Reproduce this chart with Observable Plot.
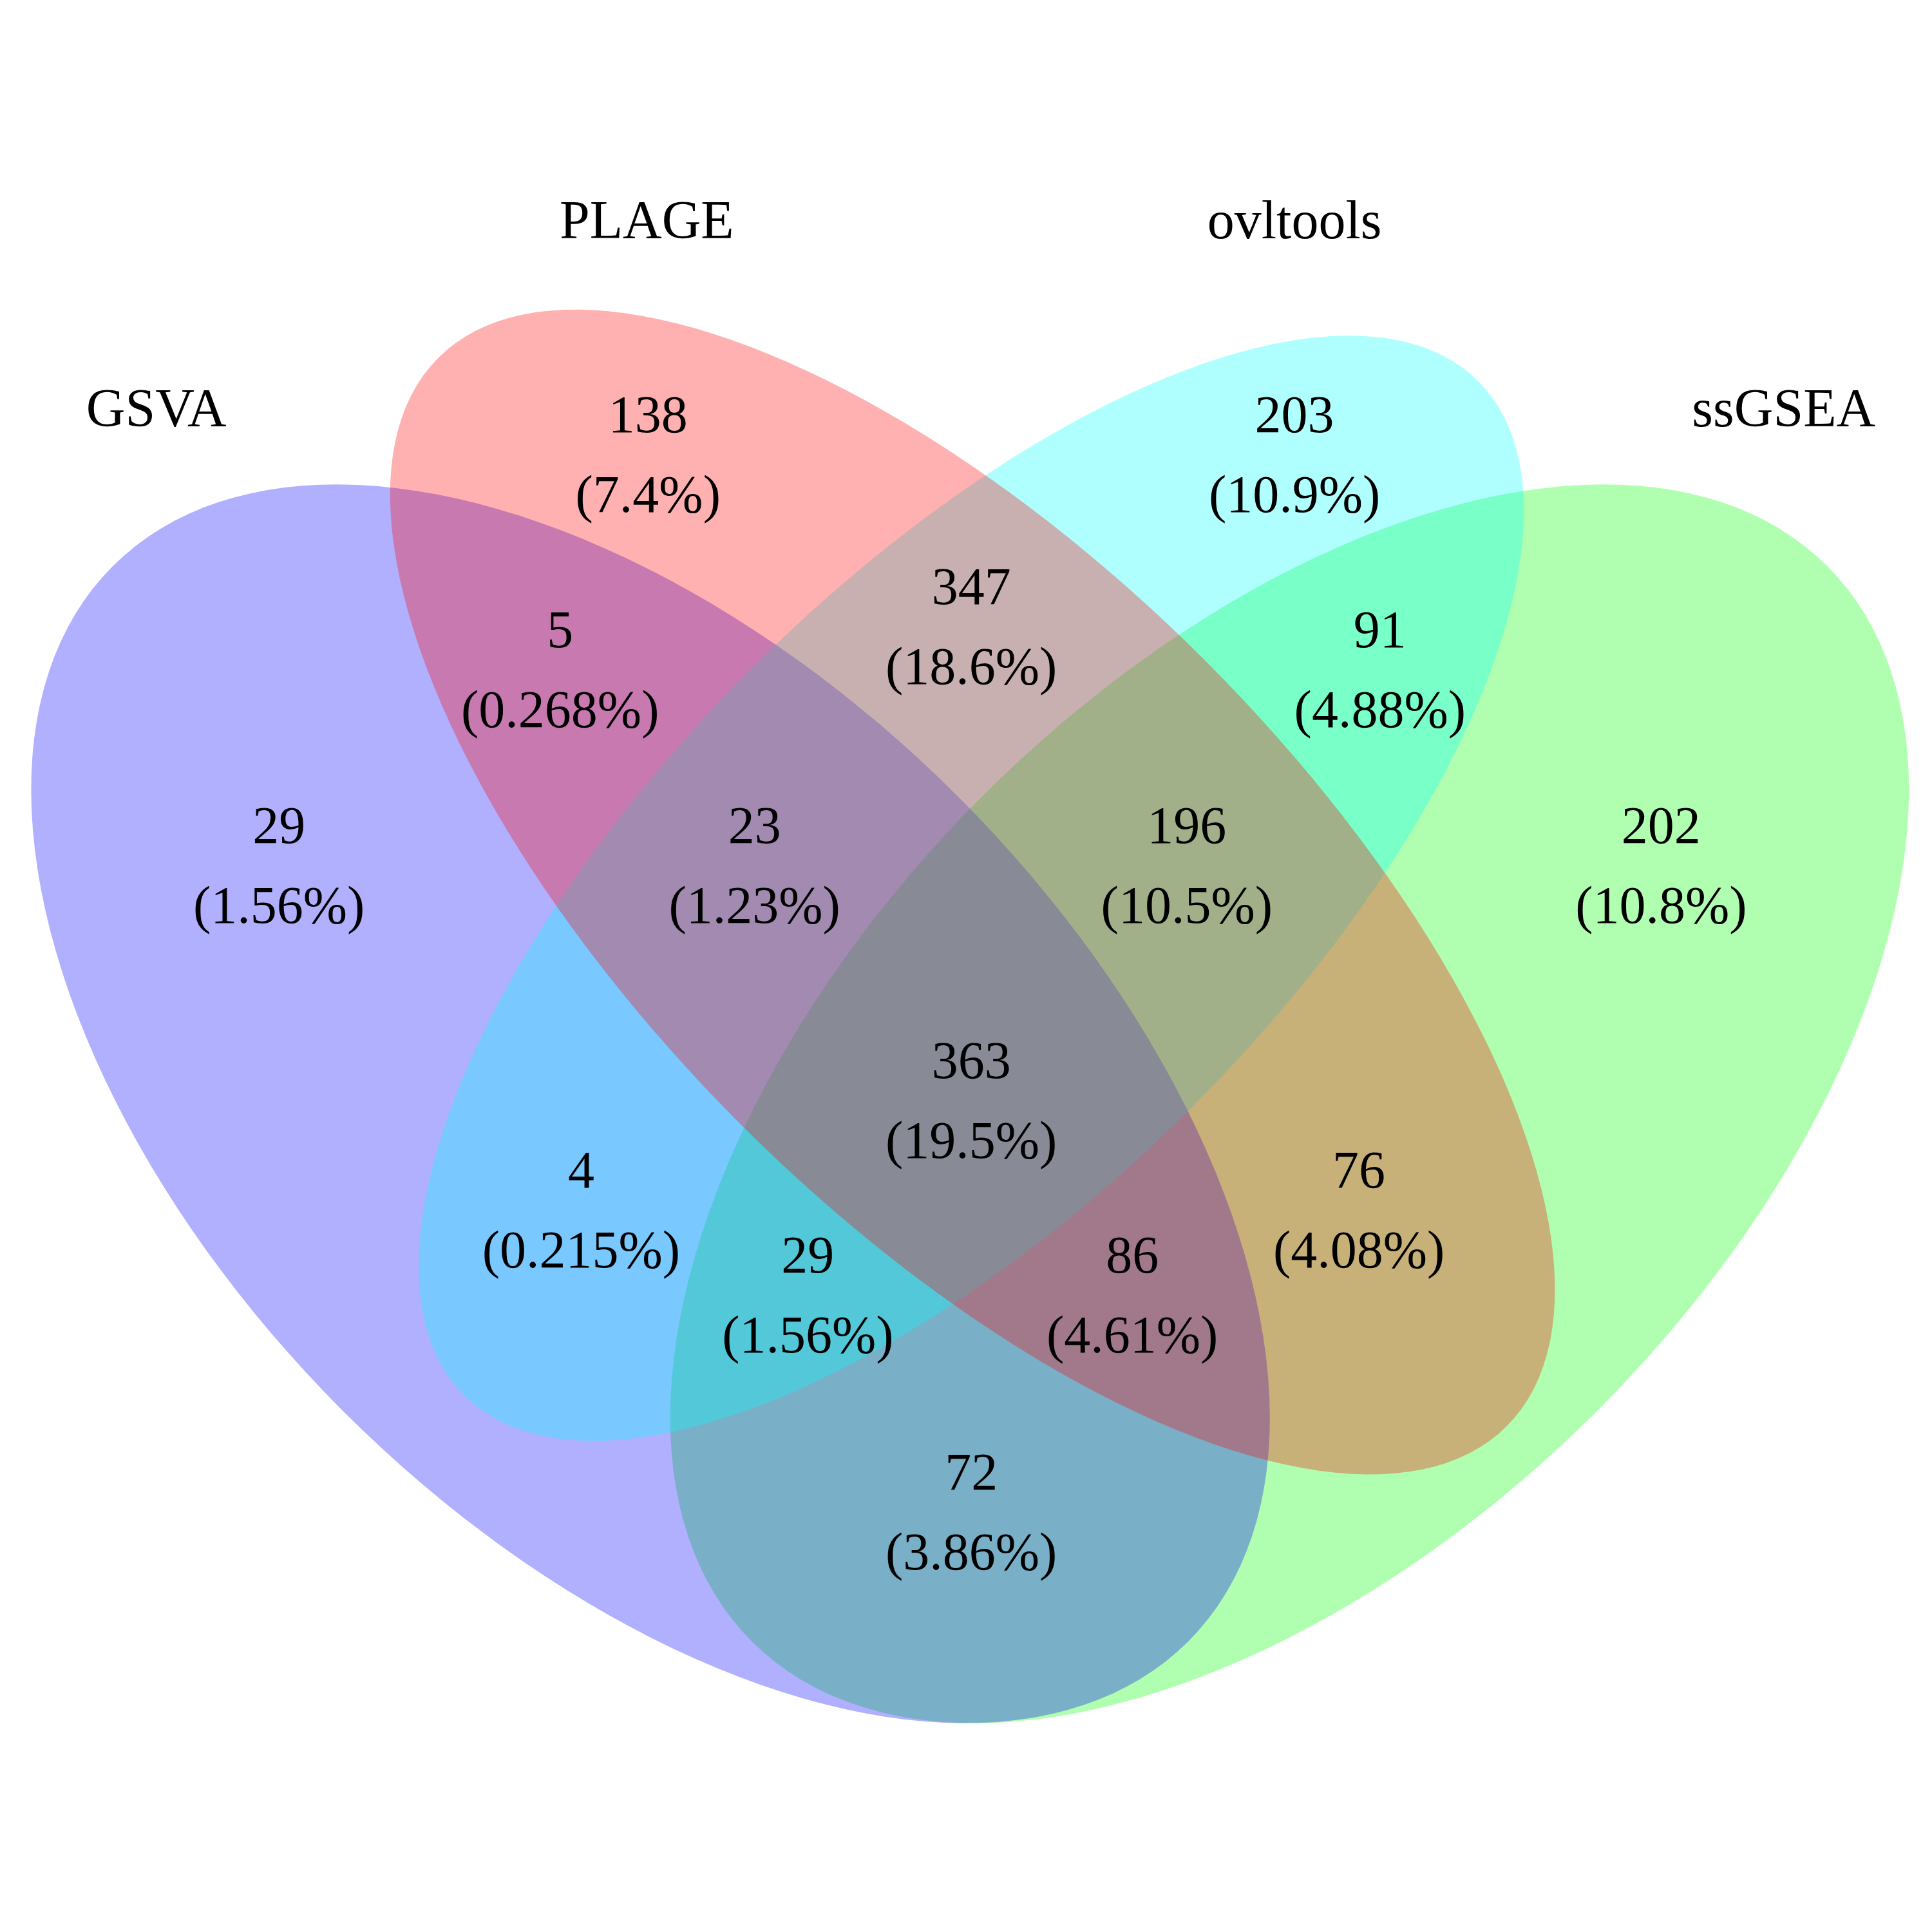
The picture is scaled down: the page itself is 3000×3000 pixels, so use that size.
<!DOCTYPE html>
<html>
<head>
<meta charset="utf-8">
<script src="https://cdn.jsdelivr.net/npm/d3@7"></script>
<script src="https://cdn.jsdelivr.net/npm/@observablehq/plot@0.6"></script>
<style>body{margin:0;background:#fff}</style>
</head>
<body>
<div id="chart"></div>
<script>
// sets, in drawing order
const setNames = ["ssGSEA", "GSVA", "ovltools", "PLAGE"]
const setColors = ["#00ff00", "#0000ff", "#00ffff", "#ff0000"]
const setCx = [1041, 525, 784, 785]
const setCy = [891, 891, 717, 720]
const setA = [614, 614, 579, 610]
const setB = [351, 351, 251, 265]
const setAngle = [-45, 45, -45, 45]
const labelNames = ["GSVA", "PLAGE", "ovltools", "ssGSEA"]
const nameX = [126, 522, 1045, 1440]
const nameY = [330, 178, 178, 330]

// regions
const counts = [29, 138, 203, 202, 5, 347, 91, 23, 196, 363, 4, 76, 29, 86, 72]
const pcts = ["1.56%", "7.4%", "10.9%", "10.8%", "0.268%", "18.6%", "4.88%", "1.23%", "10.5%", "19.5%", "0.215%", "4.08%", "1.56%", "4.61%", "3.86%"]
const labelX = [225, 523, 1045, 1341, 452, 784, 1114, 609, 958, 784, 469, 1097, 652, 914, 784]
const labelY = [699, 367, 367, 699, 541, 506, 541, 699, 699, 889, 977, 977, 1046, 1046, 1221]

const ellipses = setNames.flatMap((name, i) => {
  const t = setAngle[i] * Math.PI / 180
  return d3.range(0, 361, 2).map(d => {
    const u = d * Math.PI / 180
    const ex = setA[i] * Math.cos(u), ey = setB[i] * Math.sin(u)
    return {set: name, x: setCx[i] + ex * Math.cos(t) - ey * Math.sin(t), y: setCy[i] + ex * Math.sin(t) + ey * Math.cos(t)}
  })
})
const regions = counts.map((c, i) => ({c, p: "(" + pcts[i] + ")", x: labelX[i], y: labelY[i]}))
const names = labelNames.map((n, i) => ({n, x: nameX[i], y: nameY[i]}))

const chart = Plot.plot({
  width: 3000, height: 3000,
  margin: 0,
  x: {domain: [0, 1560], axis: null},
  y: {domain: [0, 1560], reverse: true, axis: null},
  style: {fontFamily: "Liberation Serif", background: "white"},
  marks: [
    Plot.line(ellipses, {x: "x", y: "y", z: "set", fill: "set", fillOpacity: 0.31, stroke: null, curve: "linear-closed"}),
    Plot.text(regions, {x: "x", y: "y", text: d => String(d.c), dy: -62, fontSize: 82, fill: "black"}),
    Plot.text(regions, {x: "x", y: "y", text: "p", dy: 62, fontSize: 82, fill: "black"}),
    Plot.text(names, {x: "x", y: "y", text: "n", fontSize: 84, fill: "black"})
  ],
  color: {domain: setNames, range: setColors}
})
document.getElementById("chart").append(chart)
</script>
</body>
</html>
